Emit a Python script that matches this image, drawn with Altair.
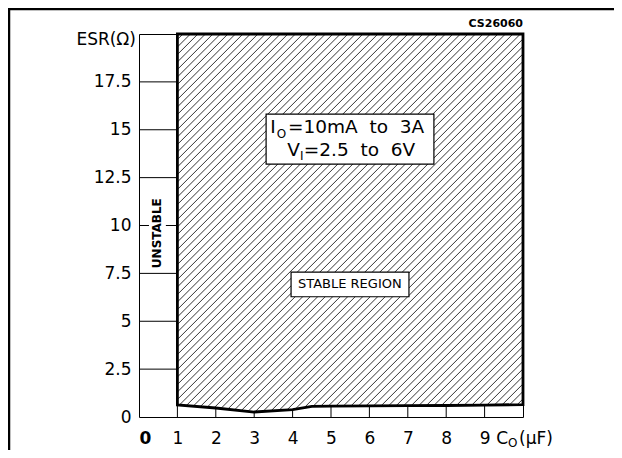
import altair as alt
import numpy as np
import pandas as pd

# ---------------- data ----------------
boundary_c = [1, 2, 3, 4, 4.5, 5, 6, 7, 8, 9, 10]
boundary_esr = [0.63, 0.47, 0.26, 0.39, 0.55, 0.57, 0.58, 0.59, 0.60, 0.62, 0.65]
esr_top = 20
c_min, c_max = 0, 10
x_tick_values = [0, 1, 2, 3, 4, 5, 6, 7, 8, 9]
y_tick_values = [0, 2.5, 5, 7.5, 10, 12.5, 15, 17.5]
unstable_grid = [2.5, 5, 7.5, 10, 12.5, 15, 17.5]
bottom_ticks = [1, 2, 3, 4, 5, 6, 7, 8, 9]

W, H = 384, 383
PAD = {"left": 131, "top": 26, "right": 91, "bottom": 33}
FONT = "DejaVu Sans"
HATCH_STEP = 7.5  # px between hatch lines (horizontal)

xs = alt.Scale(domain=[c_min, c_max], nice=False, zero=False)
ys = alt.Scale(domain=[0, esr_top], nice=False, zero=False)

# ---------------- hatch segments clipped to the stable region ----------------
sx = W / (c_max - c_min)
sy = H / esr_top
u_grid = np.linspace(boundary_c[0] * sx, c_max * sx, 20001)
curve_v = np.interp(u_grid / sx, boundary_c, boundary_esr) * sy
top_v = esr_top * sy
segs = []
for c in np.arange(boundary_c[0] * sx - top_v - 2, c_max * sx, HATCH_STEP):
    v = u_grid - c
    ok = (v >= curve_v) & (v <= top_v)
    if ok.any():
        idx = np.where(ok)[0]
        u0, u1 = u_grid[idx[0]], u_grid[idx[-1]]
        segs.append({"x": u0 / sx, "y": (u0 - c) / sy, "x2": u1 / sx, "y2": (u1 - c) / sy})
hatch_df = pd.DataFrame(segs)

x_axis = alt.Axis(values=x_tick_values, labelFont=FONT, labelFontSize=17, labelColor="black",
                  ticks=False, domain=False, grid=False, title=None, labelPadding=13,
                  labelFontWeight={"condition": {"test": "datum.value == 0", "value": "bold"}, "value": "normal"})
y_axis = alt.Axis(values=y_tick_values, labelExpr="'' + datum.value", labelFont=FONT, labelFontSize=17,
                  labelColor="black", ticks=False, domain=False, grid=False, title=None, labelPadding=8)

hatch = alt.Chart(hatch_df).mark_rule(color="black", strokeWidth=0.8).encode(
    x=alt.X("x:Q", scale=xs, axis=x_axis),
    y=alt.Y("y:Q", scale=ys, axis=y_axis),
    x2="x2:Q", y2="y2:Q",
)

grid_df = pd.DataFrame({"y": unstable_grid, "x": [c_min] * len(unstable_grid), "x2": [boundary_c[0]] * len(unstable_grid)})
grid = alt.Chart(grid_df).mark_rule(color="black", strokeWidth=1).encode(
    x=alt.X("x:Q", scale=xs), x2="x2:Q", y=alt.Y("y:Q", scale=ys))

bt_df = pd.DataFrame({"x": bottom_ticks, "y": [0] * len(bottom_ticks),
                      "y2": np.interp(bottom_ticks, boundary_c, boundary_esr)})
bticks = alt.Chart(bt_df).mark_rule(color="black", strokeWidth=1).encode(
    x=alt.X("x:Q", scale=xs), y=alt.Y("y:Q", scale=ys), y2="y2:Q")

# thick outline of the stable region
ox = list(reversed(boundary_c)) + [boundary_c[0], c_max, c_max]
oy = list(reversed(boundary_esr)) + [esr_top, esr_top, boundary_esr[-1]]
outline_df = pd.DataFrame({"x": ox, "y": oy, "o": list(range(len(ox)))})
outline = alt.Chart(outline_df).mark_line(color="black", strokeWidth=2.8, strokeJoin="miter", strokeCap="square").encode(
    x=alt.X("x:Q", scale=xs), y=alt.Y("y:Q", scale=ys), order="o:Q")

# annotation boxes
boxes_df = pd.DataFrame({"x": [3.31, 3.96], "x2": [7.68, 7.03], "y": [13.21, 6.28], "y2": [15.82, 7.57]})
boxes = alt.Chart(boxes_df).mark_rect(fill="white", stroke="black", strokeWidth=1.2).encode(
    x=alt.X("x:Q", scale=xs), x2="x2:Q", y=alt.Y("y:Q", scale=ys), y2="y2:Q")

mask_df = pd.DataFrame({"x": [0.26], "x2": [0.70], "y": [8.0], "y2": [11.2]})
mask = alt.Chart(mask_df).mark_rect(fill="white", strokeWidth=0).encode(
    x=alt.X("x:Q", scale=xs), x2="x2:Q", y=alt.Y("y:Q", scale=ys), y2="y2:Q")


def texts(rows, **kw):
    df = pd.DataFrame(rows, columns=["t", "x", "y"])
    base = dict(font=FONT, color="black", baseline="middle")
    base.update(kw)
    return alt.Chart(df).mark_text(**base).encode(
        x=alt.X("x:Q", scale=xs), y=alt.Y("y:Q", scale=ys), text="t:N")


big_main = texts([["I", 3.42, 15.14], ["=10mA\u00a0 to\u00a0 3A", 3.88, 15.14],
                  ["V", 3.86, 13.94], ["=2.5\u00a0 to\u00a0 6V", 4.29, 13.94]],
                 fontSize=18.5, align="left")
big_sub = texts([["O", 3.59, 14.80], ["I", 4.19, 13.64]], fontSize=12, align="left")
stable_t = texts([["STABLE REGION", 5.49, 6.93]], fontSize=13, align="center")
unstable_t = texts([["UNSTABLE", 0.48, 9.6]], fontSize=12, fontWeight="bold", align="center", angle=270)
code_t = texts([["CS26060", 10, 20.52]], fontSize=11, fontWeight="bold", align="right")
esr_t = texts([["ESR(\u03a9)", 0, 19.7]], fontSize=17, align="right", dx=-3)
c_main = texts([["C", 10, 0]], fontSize=17, align="right", dx=-15, dy=22)
c_sub = texts([["O", 10, 0]], fontSize=12, align="left", dx=-15, dy=26)
c_unit = texts([["(\u03bcF)", 10, 0]], fontSize=17, align="left", dx=-4, dy=22)

one = pd.DataFrame({"a": [0]})
frame_left = alt.Chart(one).mark_rule(color="black", strokeWidth=2.5).encode(
    x=alt.value(-PAD["left"] + 1), y=alt.value(-PAD["top"]), y2=alt.value(H + PAD["bottom"]))
frame_top = alt.Chart(one).mark_rule(color="black", strokeWidth=2.5).encode(
    y=alt.value(-PAD["top"] + 1), x=alt.value(-PAD["left"]), x2=alt.value(W + PAD["right"]))

chart = alt.layer(
    hatch, grid, bticks, mask, boxes, outline,
    big_main, big_sub, stable_t, unstable_t, code_t, esr_t, c_main, c_sub, c_unit,
    frame_left, frame_top,
).properties(
    width=W, height=H, padding=PAD, autosize="none", background="white"
).configure_view(stroke="black", strokeWidth=1)

chart.save("out.html", embed_options={"renderer": "svg", "actions": False})
